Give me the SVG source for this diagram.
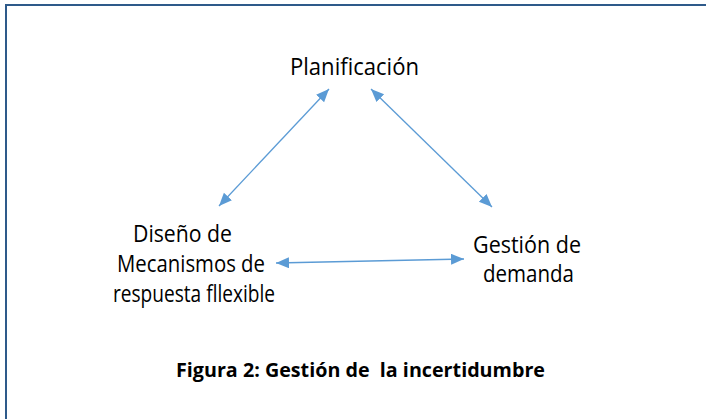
<svg xmlns="http://www.w3.org/2000/svg" width="706" height="419" viewBox="0 0 706 419">
<style>
.lbl{font-family:"Open Sans","Liberation Sans",Arial,sans-serif;font-size:23.5px;fill:#000;}
.cap{font-family:"Open Sans","Liberation Sans",Arial,sans-serif;font-size:19px;font-weight:bold;fill:#000;white-space:pre;}
.con{stroke:#5B9BD5;stroke-width:1.3;fill:none;marker-start:url(#ah);marker-end:url(#ah);}
.frame{stroke:#2E5A8A;stroke-width:2;fill:none;}
</style>
<defs>
<marker id="ah" markerUnits="userSpaceOnUse" markerWidth="14" markerHeight="12" refX="13" refY="5.5" orient="auto-start-reverse">
<path d="M0,0 L13,5.5 L0,11 Z" fill="#5B9BD5"/>
</marker>
</defs>
<rect width="706" height="419" fill="#fff"/>
<g id="frame">
<path class="frame" d="M6,420 L6,5 L706,5"/>
</g>
<g id="connectors">
<line class="con" x1="329" y1="89" x2="219" y2="206"/>
<line class="con" x1="371" y1="89" x2="492" y2="207"/>
<line class="con" x1="276" y1="263" x2="464" y2="259"/>
</g>
<g id="node-planificacion">
<text class="lbl" x="290" y="75" textLength="129" lengthAdjust="spacingAndGlyphs">Planificación</text>
</g>
<g id="node-diseno">
<text class="lbl" x="133" y="242" textLength="99" lengthAdjust="spacingAndGlyphs">Diseño de</text>
<text class="lbl" x="117" y="272" textLength="148" lengthAdjust="spacingAndGlyphs">Mecanismos de</text>
<text class="lbl" x="113" y="302" textLength="162" lengthAdjust="spacingAndGlyphs">respuesta fllexible</text>
</g>
<g id="node-gestion">
<text class="lbl" x="473" y="253" textLength="108" lengthAdjust="spacingAndGlyphs">Gestión de</text>
<text class="lbl" x="483" y="282" textLength="91" lengthAdjust="spacingAndGlyphs">demanda</text>
</g>
<g id="caption">
<text class="cap" x="176" y="377" textLength="369" lengthAdjust="spacingAndGlyphs" xml:space="preserve">Figura 2: Gestión de  la incertidumbre</text>
</g>
</svg>
